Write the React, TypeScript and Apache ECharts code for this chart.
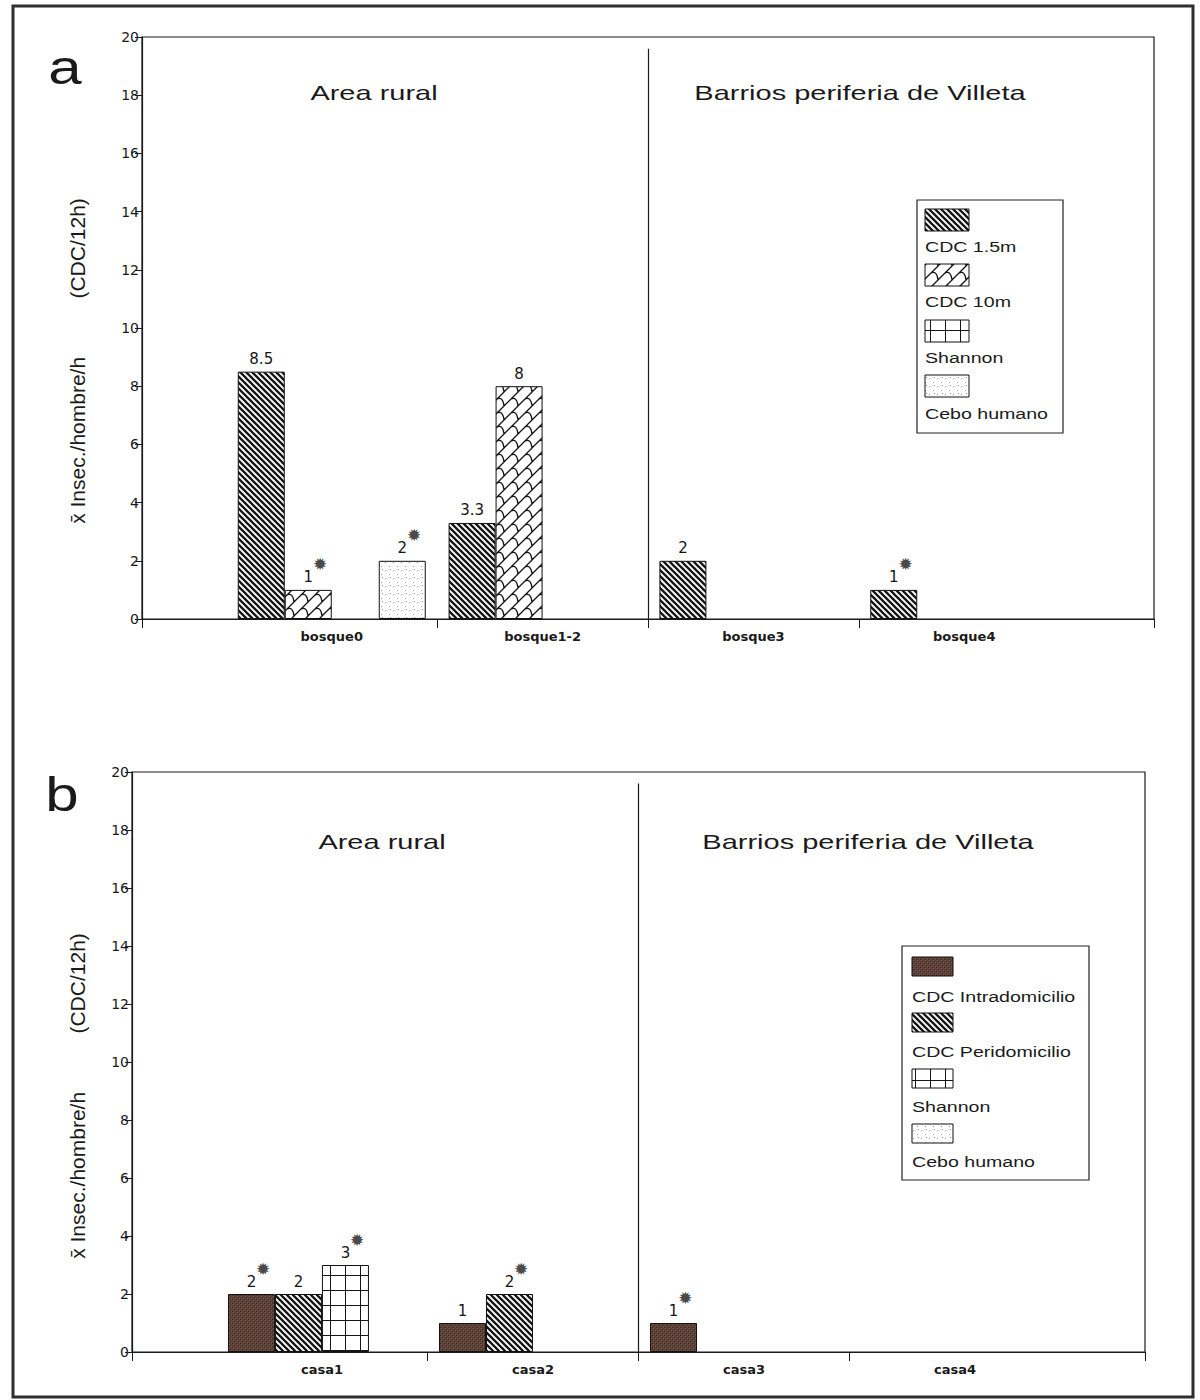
import React, { useEffect, useRef } from 'react';
import * as echarts from 'echarts';

// ---------- data ----------
const categoriesA = ['bosque0', 'bosque1-2', 'bosque3', 'bosque4'];
const categoriesB = ['casa1', 'casa2', 'casa3', 'casa4'];
const seriesNamesA = ['CDC 1.5m', 'CDC 10m', 'Shannon', 'Cebo humano'];
const seriesNamesB = ['CDC Intradomicilio', 'CDC Peridomicilio', 'Shannon', 'Cebo humano'];

const aCdc15 = [8.5, 3.3, 2, 1];
const aCdc10 = [1, 8, null, null];
const aShannon = [null, null, null, null];
const aCebo = [2, null, null, null];

const aCdc15Star = [false, false, false, true];
const aCdc10Star = [true, false, false, false];
const aShannonStar = [false, false, false, false];
const aCeboStar = [true, false, false, false];

const bIntra = [2, 1, 1, null];
const bPeri = [2, 2, null, null];
const bShannon = [3, null, null, null];
const bCebo = [null, null, null, null];

const bIntraStar = [true, false, true, false];
const bPeriStar = [false, true, false, false];
const bShannonStar = [true, false, false, false];
const bCeboStar = [false, false, false, false];

const regionTitles = ['Area rural', 'Barrios periferia de Villeta'];
const panelLetters = ['a', 'b'];
const yAxisTitle = 'x\u0304 Insec./hombre/h' + '\u00a0'.repeat(10) + '(CDC/12h)';
const yMin = 0;
const yMax = 20;
const yStep = 2;
const regionBoundary = 2.5;
const dividerTop = 19.6;

// ---------- patterns ----------
type Draw = (c: CanvasRenderingContext2D, s: number) => void;
function pattern(size: number, draw: Draw) {
  const cv = document.createElement('canvas');
  cv.width = size;
  cv.height = size;
  const ctx = cv.getContext('2d') as CanvasRenderingContext2D;
  draw(ctx, size);
  return { image: cv, repeat: 'repeat', imageWidth: size, imageHeight: size } as any;
}
const hatch = () =>
  pattern(6, (c, s) => {
    c.fillStyle = '#ffffff';
    c.fillRect(0, 0, s, s);
    c.strokeStyle = '#161616';
    c.lineWidth = 2.3;
    c.beginPath();
    for (let k = -1; k <= 1; k++) {
      c.moveTo(k * s - 1, -1);
      c.lineTo(k * s + s + 1, s + 1);
    }
    c.stroke();
  });
const scales = () =>
  pattern(14, (c, s) => {
    c.fillStyle = '#ffffff';
    c.fillRect(0, 0, s, s);
    c.strokeStyle = '#161616';
    c.lineWidth = 1.3;
    c.beginPath();
    c.moveTo(-1, s + 1);
    c.lineTo(s + 1, -1);
    c.moveTo(-1, 1);
    c.lineTo(1, -1);
    c.moveTo(s - 1, s + 1);
    c.lineTo(s + 1, s - 1);
    c.moveTo(s / 2, s / 2);
    c.quadraticCurveTo(s * 0.92, s * 0.3, s, s);
    c.moveTo(s / 2 - s, s / 2);
    c.quadraticCurveTo(s * 0.92 - s, s * 0.3, 0, s);
    c.stroke();
  });
const gridPat = () =>
  pattern(15, (c, s) => {
    c.fillStyle = '#ffffff';
    c.fillRect(0, 0, s, s);
    c.fillStyle = '#161616';
    c.fillRect(0, 0, 1, s);
    c.fillRect(0, 0, s, 1);
  });
const dots = () =>
  pattern(8, (c, s) => {
    c.fillStyle = '#ffffff';
    c.fillRect(0, 0, s, s);
    c.fillStyle = '#9a9a9a';
    c.fillRect(1, 2, 1, 1);
    c.fillRect(5, 6, 1, 1);
    c.fillRect(6, 1, 1, 1);
  });
const brown = () =>
  pattern(4, (c, s) => {
    c.fillStyle = '#5c3f36';
    c.fillRect(0, 0, s, s);
    c.fillStyle = '#7b6158';
    c.fillRect(1, 0, 1, 1);
    c.fillRect(3, 2, 1, 1);
    c.fillStyle = '#3e2a24';
    c.fillRect(0, 3, 1, 1);
    c.fillRect(2, 1, 1, 1);
  });

const FONT = '"Liberation Sans", Arial, sans-serif';
const FONT2 = '"DejaVu Sans", sans-serif';

function barSeries(name: string, values: (number | null)[], stars: boolean[], fill: any, gi: number) {
  return {
    type: 'bar',
    name,
    xAxisIndex: gi,
    yAxisIndex: gi,
    silent: true,
    data: values.map((v, i) => [i + 1, v == null ? '-' : v]),
    barWidth: 47,
    barGap: '0%',
    itemStyle: { color: fill, borderColor: '#111', borderWidth: 1 },
    emphasis: { disabled: true },
    label: {
      show: true,
      position: 'top',
      distance: 5,
      formatter: (p: any) => {
        const v = p.value[1];
        return stars[p.dataIndex] ? `{p|}{v|${v}}{s|\u2739}` : `{v|${v}}`;
      },
      rich: {
        v: { fontSize: 15, fontFamily: FONT2, color: '#151515', verticalAlign: 'bottom' },
        p: { width: 14, fontSize: 15, verticalAlign: 'bottom' },
        s: { width: 14, fontSize: 17, fontFamily: FONT2, color: '#4a4a4a', verticalAlign: 'bottom', padding: [0, 0, 12, 0] },
      },
    },
  };
}

function dividerSeries(gi: number) {
  return {
    type: 'line',
    name: 'divisor',
    xAxisIndex: gi,
    yAxisIndex: gi,
    silent: true,
    data: [],
    showSymbol: false,
    markLine: {
      silent: true,
      symbol: ['none', 'none'],
      label: { show: false },
      lineStyle: { color: '#1a1a1a', width: 1.2, type: 'solid' },
      data: [[{ coord: [regionBoundary, yMin] }, { coord: [regionBoundary, dividerTop] }]],
    },
  };
}

function xAxis(gi: number, cats: string[]) {
  return {
    type: 'value',
    gridIndex: gi,
    min: 0.1,
    max: 4.9,
    splitLine: { show: false },
    axisLine: { show: true, onZero: false, lineStyle: { color: '#1a1a1a', width: 1.2 } },
    axisTick: { show: true, length: 9, inside: false, customValues: [0.1, 1.5, regionBoundary, 3.5, 4.9], lineStyle: { color: '#1a1a1a', width: 1 } },
    axisLabel: {
      show: true,
      customValues: cats.map((_, i) => i + 1),
      formatter: (v: number) => cats[Math.round(v) - 1] || '',
      fontFamily: FONT2,
      fontWeight: 'bold',
      fontSize: 13,
      color: '#1a1a1a',
      margin: 11,
    },
  };
}

function yAxis(gi: number) {
  return {
    type: 'value',
    gridIndex: gi,
    min: yMin,
    max: yMax,
    interval: yStep,
    splitLine: { show: false },
    axisLine: { show: true, lineStyle: { color: '#1a1a1a', width: 1.2 } },
    axisTick: { show: true, length: 7, lineStyle: { color: '#1a1a1a', width: 1 } },
    axisLabel: { fontFamily: FONT2, fontSize: 14, color: '#1a1a1a', margin: 3 },
  };
}

function txt(text: string, x: number, y: number, size: number, opts: any = {}) {
  return {
    type: 'text',
    x,
    y,
    scaleX: opts.scaleX ?? 1,
    rotation: opts.rotation ?? 0,
    silent: true,
    style: {
      text,
      fontSize: size,
      fontFamily: opts.font ?? FONT,
      fill: '#1a1a1a',
      align: opts.align ?? 'center',
      verticalAlign: 'middle',
    },
  };
}

function legend(box: any, sw: any, labelYs: number[], swYs: number[], names: string[], fills: any[]) {
  const els: any[] = [
    { type: 'rect', silent: true, shape: box, style: { fill: '#fff', stroke: '#222', lineWidth: 1.2 } },
  ];
  names.forEach((n, i) => {
    els.push({ type: 'rect', silent: true, shape: { x: sw.x, y: swYs[i], width: sw.w, height: sw.h }, style: { fill: fills[i], stroke: '#111', lineWidth: 1 } });
    els.push(txt(n, sw.x, labelYs[i], 14, { align: 'left', scaleX: 1.4 }));
  });
  return els;
}

export default function App() {
  const ref = useRef<HTMLDivElement>(null);
  useEffect(() => {
    if (!ref.current) return;
    const chart = echarts.init(ref.current, null, { renderer: 'svg' });
    const fillsA = [hatch(), scales(), gridPat(), dots()];
    const fillsB = [brown(), hatch(), gridPat(), dots()];
    const valsA = [aCdc15, aCdc10, aShannon, aCebo];
    const starsA = [aCdc15Star, aCdc10Star, aShannonStar, aCeboStar];
    const valsB = [bIntra, bPeri, bShannon, bCebo];
    const starsB = [bIntraStar, bPeriStar, bShannonStar, bCeboStar];

    const series: any[] = [];
    seriesNamesA.forEach((n, i) => series.push(barSeries(n, valsA[i], starsA[i], fillsA[i], 0)));
    seriesNamesB.forEach((n, i) => series.push(barSeries(n, valsB[i], starsB[i], fillsB[i], 1)));
    series.push(dividerSeries(0), dividerSeries(1));

    const graphic: any[] = [
      { type: 'rect', silent: true, shape: { x: 13, y: 6, width: 1180, height: 1391 }, style: { fill: 'none', stroke: '#2e2e2e', lineWidth: 3 } },
      txt(panelLetters[0], 65, 68, 48, { scaleX: 1.25 }),
      txt(panelLetters[1], 62, 795, 48, { scaleX: 1.25 }),
      txt(regionTitles[0], 374, 93, 20, { scaleX: 1.45 }),
      txt(regionTitles[1], 860, 93, 20, { scaleX: 1.45 }),
      txt(regionTitles[0], 382, 842, 20, { scaleX: 1.45 }),
      txt(regionTitles[1], 868, 842, 20, { scaleX: 1.45 }),
      txt(yAxisTitle, 77, 361, 21, { rotation: Math.PI / 2 }),
      txt(yAxisTitle, 77, 1096, 21, { rotation: Math.PI / 2 }),
      ...legend({ x: 917, y: 200, width: 146, height: 233 }, { x: 925, w: 44, h: 22 }, [247, 302, 358, 414], [209, 264, 320, 375], seriesNamesA, fillsA),
      ...legend({ x: 902, y: 946, width: 187, height: 234 }, { x: 912, w: 41, h: 19 }, [997, 1052, 1107, 1162], [957, 1013, 1069, 1124], seriesNamesB, fillsB),
    ];

    chart.setOption({
      animation: false,
      backgroundColor: '#ffffff',
      grid: [
        { left: 142, right: 46, top: 37, height: 582, show: true, borderColor: '#1a1a1a', borderWidth: 1.2, backgroundColor: 'transparent' },
        { left: 132, right: 55, top: 772, height: 580, show: true, borderColor: '#1a1a1a', borderWidth: 1.2, backgroundColor: 'transparent' },
      ],
      xAxis: [xAxis(0, categoriesA), xAxis(1, categoriesB)],
      yAxis: [yAxis(0), yAxis(1)],
      series,
      graphic,
    });
    return () => chart.dispose();
  }, []);
  return <div ref={ref} style={{ position: 'absolute', left: 0, top: 0, width: 1200, height: 1400 }} />;
}
